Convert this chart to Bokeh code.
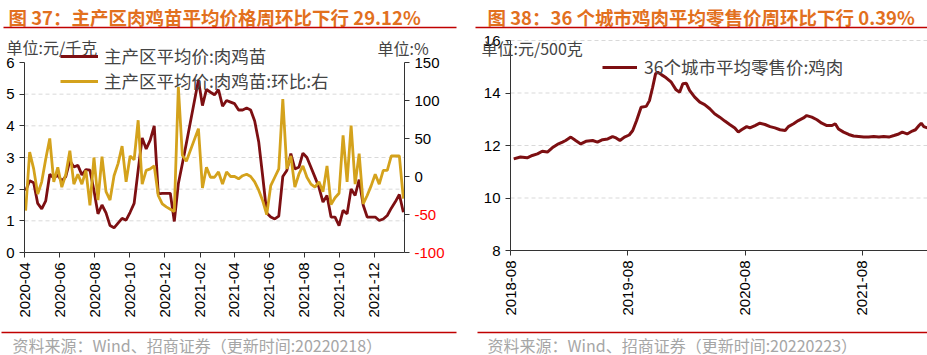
import math
import pandas as pd
from bokeh.plotting import figure
from bokeh.layouts import column, row
from bokeh.models import (Range1d, LinearAxis, DatetimeAxis, FixedTicker, DatetimeTickFormatter,
                          Label, Legend, LegendItem, ColumnDataSource, CustomJSTickFormatter)
from bokeh.core.properties import value
from bokeh.embed import file_html
from bokeh.resources import INLINE

# ---------------- texts ----------------
TITLE_L = "图 37：主产区肉鸡苗平均价格周环比下行 29.12%"
TITLE_R = "图 38：36 个城市鸡肉平均零售价周环比下行 0.39%"
SOURCE_L = "资料来源：Wind、招商证券（更新时间:20220218）"
SOURCE_R = "资料来源：Wind、招商证券（更新时间:20220223）"
UNIT_L1 = "单位:元/千克"
UNIT_L2 = "单位:%"
UNIT_R = "单位:元/500克"
NAME_PRICE = "主产区平均价:肉鸡苗"
NAME_WOW = "主产区平均价:肉鸡苗:环比:右"
NAME_RETAIL = "36个城市平均零售价:鸡肉"

# ---------------- left chart data (weekly) ----------------
chick_first_week = "2020-04-03"
chick_price = [1.95, 2.27, 2.20, 1.55, 1.38, 1.63, 2.47, 2.35, 2.45, 2.25,
               2.40, 2.90, 2.70, 2.75, 2.45, 2.62, 2.60, 1.96, 1.22, 1.50,
               1.25, 0.85, 0.78, 0.93, 1.08, 1.02, 1.27, 1.55, 2.60, 3.62,
               3.27, 3.55, 4.00, 1.85, 1.87, 1.87, 1.87, 0.98, 2.17, 2.80,
               3.45, None, None, 5.45, 4.64, 5.15, 5.06, 4.98, 5.14, 4.62,
               4.80, 4.75, 4.70, 4.50, 4.50, 4.56, 4.50, 4.15, 3.50, 2.40,
               1.25, 1.12, 1.06, 1.15, 2.40, 2.59, 3.12, 2.64, 2.69, 3.14,
               3.00, 2.69, 2.38, 2.06, 1.59, 1.80, 1.12, 1.12, 0.85, 1.33,
               1.22, 2.01, 1.80, 2.30, 1.50, 1.12, 1.12, 1.12, 1.01, 1.06,
               1.17, 1.40, 1.60, 1.83, 1.27]
chick_wow = [-45, 32, 10, -23, -7, 23, 50, -7, 12, -14,
             3, 34, -10, 3, -10, 8, -38, 25, -31, 26,
             -20, -31, 1, 17, 40, -7, 27, 22, 74, -10,
             8, 10, 14, -25, -36, -40, -43, -46, 118, 28,
             20, None, None, 63, -15, 12, -1, -1, 6, -10,
             6, 0, 0, -3, 1, 3, 0, -7, -18, -32,
             -50, -12, -1, 10, 102, 10, 27, -14, 3, 14,
             -1, -10, -14, -7, -20, 14, -37, -28, -22, 54,
             -7, 67, -10, 30, -36, -25, -12, 3, -10, 8,
             8, 27, 27, 27, -29]
chick_ticks = ["2020-04", "2020-06", "2020-08", "2020-10", "2020-12", "2021-02",
               "2021-04", "2021-06", "2021-08", "2021-10", "2021-12"]
chick_axis_start = "2020-04-01"
chick_axis_end = "2022-01-23"
price_ticks = [0, 1, 2, 3, 4, 5, 6]
price_grid = [1, 2, 3, 4, 5]
wow_ticks = [-100, -50, 0, 50, 100, 150]

# ---------------- right chart data ----------------
retail_base = "2018-08-01"
retail_day_offset = [10, 31, 52, 68, 84, 99, 115, 130, 146, 162,
                     172, 188, 203, 219, 235, 256, 271, 287, 303, 318,
                     329, 341, 355, 370, 381, 393, 407, 423, 433, 443,
                     452, 459, 470, 485, 501, 516, 527, 537, 548, 558,
                     574, 590, 605, 621, 636, 652, 668, 683, 699, 710,
                     720, 736, 746, 762, 777, 793, 809, 824, 840, 856,
                     866, 882, 897, 913, 923, 939, 955, 970, 986, 1002,
                     1012, 1022, 1038, 1054, 1069, 1085, 1101, 1116, 1132, 1148,
                     1163, 1179, 1195, 1210, 1221, 1236, 1252, 1262, 1273, 1280,
                     1288, 1299]
retail_price = [11.49, 11.56, 11.53, 11.62, 11.68, 11.78, 11.75, 11.91, 12.04, 12.13,
                12.19, 12.32, 12.19, 12.06, 12.16, 12.19, 12.13, 12.22, 12.25, 12.34,
                12.29, 12.19, 12.32, 12.40, 12.57, 12.95, 13.46, 13.49, 13.71, 14.22,
                14.73, 14.79, 14.70, 14.58, 14.41, 14.12, 14.03, 14.35, 14.37, 14.10,
                13.84, 13.65, 13.56, 13.40, 13.21, 13.08, 12.93, 12.80, 12.67, 12.51,
                12.60, 12.72, 12.67, 12.76, 12.85, 12.80, 12.72, 12.67, 12.60, 12.57,
                12.72, 12.83, 12.95, 13.05, 13.14, 13.08, 12.98, 12.85, 12.76, 12.76,
                12.83, 12.63, 12.51, 12.42, 12.36, 12.34, 12.32, 12.32, 12.34, 12.32,
                12.34, 12.32, 12.38, 12.44, 12.51, 12.44, 12.55, 12.60, 12.76, 12.85,
                12.72, 12.67]
retail_ticks = ["2018-08", "2019-08", "2020-08", "2021-08"]
retail_y_ticks = [8, 10, 12, 14, 16]
retail_grid = [10, 12, 14, 16]

# ---------------- styles / layout constants ----------------
CJK = "Noto Sans CJK SC"
NUM = "Liberation Sans"
ORANGE = "#E2701E"
RULE = "#C00000"
MAROON = "#7D0F12"
GOLD = "#D4A21C"
SRC_GRAY = "#A6A6A6"
AXIS = "#333333"
GRID = "#D9D9D9"
CHART_H = 300


def ms(s):
    return pd.Timestamp(s).value / 1e6


def style_axis(ax):
    ax.axis_line_color = AXIS
    ax.major_tick_line_color = AXIS
    ax.major_tick_out = 5
    ax.major_tick_in = 0
    ax.minor_tick_line_color = None
    ax.major_label_text_font = NUM
    ax.major_label_text_font_size = "15px"
    ax.major_label_text_color = "#000000"
    ax.major_label_standoff = 5


def make_canvas(w, h, xr, yr):
    p = figure(width=w, height=h, x_range=xr, y_range=yr, output_backend="svg",
               toolbar_location=None, min_border=0, x_axis_location=None, y_axis_location=None)
    p.grid.visible = False
    p.outline_line_color = None
    p.background_fill_color = "white"
    p.border_fill_color = "white"
    return p


def lin_range(v0, v1, px0, px1, size):
    # value v0 at pixel px0, v1 at pixel px1 (pixels measured from range start side)
    per = (v1 - v0) / (px1 - px0)
    return Range1d(v0 - px0 * per, v0 + (size - px0) * per)


# ---------------- header ----------------
hdr = make_canvas(927, 30, Range1d(0, 927), Range1d(30, 0))
hdr.text(x=[8, 487], y=[16, 16], text=[TITLE_L, TITLE_R], text_font=value(CJK),
         text_font_style="bold", text_font_size="18.5px", text_color=ORANGE,
         text_baseline="middle", text_align="left")
hdr.segment(x0=[3, 475], y0=[27, 27], x1=[456, 927], y1=[27, 27],
            line_color=RULE, line_width=1.5)

# ---------------- footer ----------------
ftr = make_canvas(927, 25, Range1d(0, 927), Range1d(25, 0))
ftr.segment(x0=[1, 477], y0=[2, 2], x1=[456, 927], y1=[2, 2],
            line_color=RULE, line_width=1.5)
ftr.text(x=[12, 487], y=[14, 14], text=[SOURCE_L, SOURCE_R], text_font=value(CJK),
         text_font_size="16px", text_color=SRC_GRAY, text_baseline="middle",
         text_align="left")

# ---------------- left chart ----------------
LW = 465
lx0, lx1 = ms(chick_axis_start), ms(chick_axis_end)
pl = make_canvas(LW, CHART_H,
                 lin_range(lx0, lx1, 24, 404, LW),
                 lin_range(0, 6, CHART_H - 222, CHART_H - 32, CHART_H))
pl.extra_y_ranges = {"pct": lin_range(-100, 150, CHART_H - 222, CHART_H - 32, CHART_H)}

wk = pd.date_range(chick_first_week, periods=len(chick_price), freq="7D")
df_l = pd.DataFrame({"date": wk, "price": chick_price, "wow": chick_wow}).dropna()
src_l = ColumnDataSource(df_l)

pl.segment(x0=[lx0] * len(price_grid), x1=[lx1] * len(price_grid), y0=price_grid, y1=price_grid,
           line_color=GRID, line_dash="4 3", line_width=1)

r_price = pl.line("date", "price", source=src_l, line_color=MAROON, line_width=2.8)
r_wow = pl.line("date", "wow", source=src_l, y_range_name="pct", line_color=GOLD, line_width=2.8)

ax_ly = LinearAxis(fixed_location=lx0, bounds=(0, 6), ticker=FixedTicker(ticks=price_ticks))
ax_ry = LinearAxis(fixed_location=lx1, bounds=(-100, 150), y_range_name="pct",
                   ticker=FixedTicker(ticks=wow_ticks),
                   formatter=CustomJSTickFormatter(code="return tick < 0 ? '' : tick.toString();"))
ax_lx = DatetimeAxis(fixed_location=0, bounds=(lx0, lx1),
                     ticker=FixedTicker(ticks=[ms(t + "-01") for t in chick_ticks]),
                     formatter=DatetimeTickFormatter(days="%Y-%m", months="%Y-%m", years="%Y-%m"),
                     major_label_orientation=math.pi / 2)
for ax in (ax_ly, ax_ry, ax_lx):
    style_axis(ax)
pl.add_layout(ax_ly, "left")
pl.add_layout(ax_ry, "right")
pl.add_layout(ax_lx, "below")

for t in wow_ticks:
    if t < 0:
        pl.add_layout(Label(x=414, y=t, x_units="screen", y_range_name="pct", text=str(t),
                            text_color="#FF0000", text_font=NUM, text_font_size="15px",
                            text_baseline="middle", text_align="left"))
pl.add_layout(Label(x=6, y=CHART_H - 16, x_units="screen", y_units="screen", text=UNIT_L1,
                    text_font=CJK, text_font_size="16px", text_baseline="middle"))
pl.add_layout(Label(x=377, y=CHART_H - 17, x_units="screen", y_units="screen", text=UNIT_L2,
                    text_font=CJK, text_font_size="16px", text_baseline="middle"))

leg_l = Legend(items=[LegendItem(label=NAME_PRICE, renderers=[r_price]),
                      LegendItem(label=NAME_WOW, renderers=[r_wow])],
               location=(60, CHART_H - 63), orientation="vertical")
leg_r = None
for lg in (leg_l,):
    lg.glyph_width = 38
    lg.glyph_height = 20
    lg.label_height = 20
    lg.label_standoff = 6
    lg.padding = 0
    lg.margin = 0
    lg.spacing = 0
    lg.label_text_font = CJK
    lg.label_text_font_size = "17.5px"
    lg.background_fill_alpha = 0
    lg.border_line_alpha = 0
pl.add_layout(leg_l)

# ---------------- right chart ----------------
RW = 462
rx0 = ms(retail_base)
rx1 = ms("2021-08-01")
xr_r = lin_range(rx0, rx1, 45, 396.7, RW)
pr = make_canvas(RW, CHART_H, xr_r, lin_range(8, 16, CHART_H - 220, CHART_H - 10, CHART_H))

rd = pd.Timestamp(retail_base) + pd.to_timedelta(retail_day_offset, unit="D")
src_r = ColumnDataSource(pd.DataFrame({"date": rd, "price": retail_price}))

pr.segment(x0=[rx0] * len(retail_grid), x1=[xr_r.end] * len(retail_grid),
           y0=retail_grid, y1=retail_grid, line_color=GRID, line_dash="4 3", line_width=1)
r_ret = pr.line("date", "price", source=src_r, line_color=MAROON, line_width=3)

ax_ry2 = LinearAxis(fixed_location=rx0, bounds=(8, 16), ticker=FixedTicker(ticks=retail_y_ticks))
ax_rx2 = DatetimeAxis(fixed_location=8, bounds=(rx0, xr_r.end),
                      ticker=FixedTicker(ticks=[ms(t + "-01") for t in retail_ticks]),
                      formatter=DatetimeTickFormatter(days="%Y-%m", months="%Y-%m", years="%Y-%m"),
                      major_label_orientation=math.pi / 2)
for ax in (ax_ry2, ax_rx2):
    style_axis(ax)
pr.add_layout(ax_ry2, "left")
pr.add_layout(ax_rx2, "below")

pr.add_layout(Label(x=16, y=CHART_H - 17.5, x_units="screen", y_units="screen", text=UNIT_R,
                    text_font=CJK, text_font_size="16px", text_baseline="middle"))

leg_r = Legend(items=[LegendItem(label=NAME_RETAIL, renderers=[r_ret])],
               location=(137, CHART_H - 49))
leg_r.glyph_width = 35
leg_r.glyph_height = 20
leg_r.label_height = 20
leg_r.label_standoff = 7
leg_r.padding = 0
leg_r.margin = 0
leg_r.spacing = 0
leg_r.label_text_font = CJK
leg_r.label_text_font_size = "17.5px"
leg_r.background_fill_alpha = 0
leg_r.border_line_alpha = 0
pr.add_layout(leg_r)

layout = column(hdr, row(pl, pr), ftr)
open("out.html", "w").write(file_html(layout, INLINE))
